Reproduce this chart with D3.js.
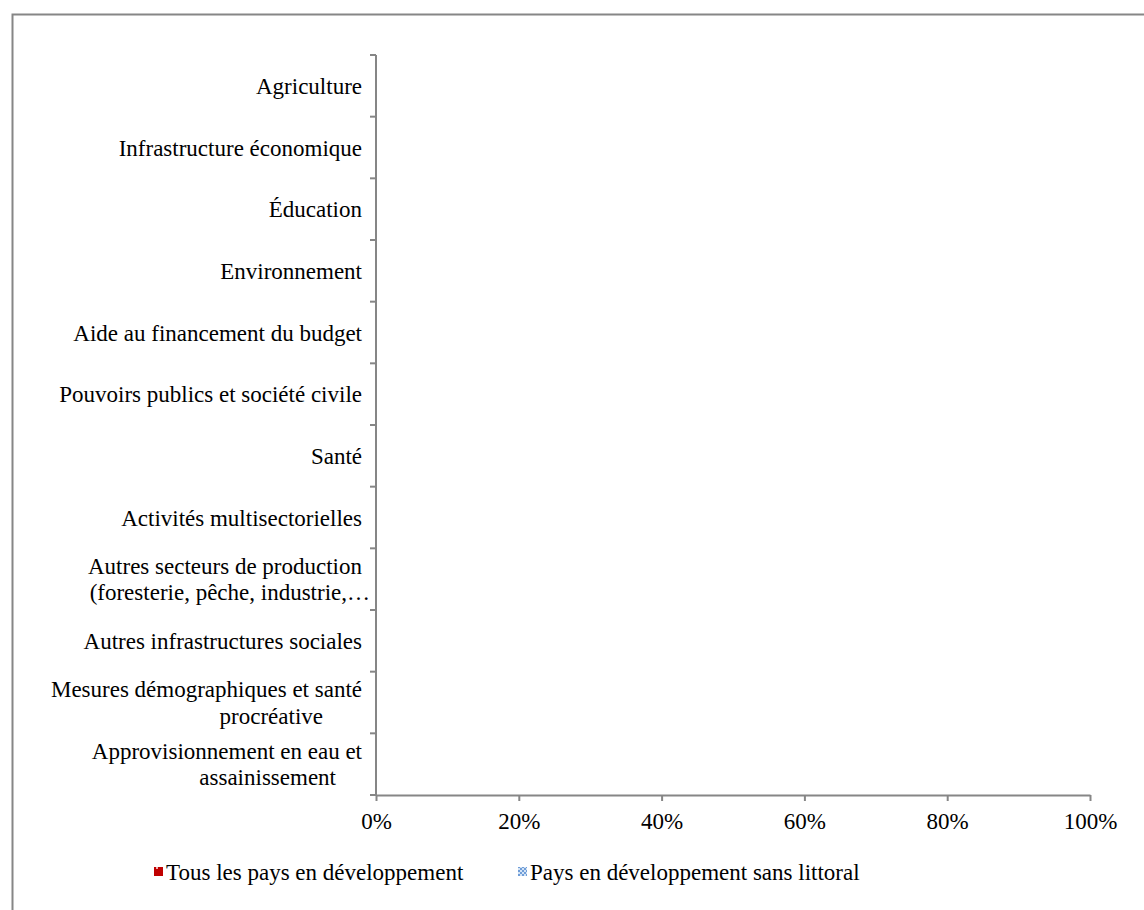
<!DOCTYPE html>
<html>
<head>
<meta charset="utf-8">
<script src="https://cdn.jsdelivr.net/npm/d3@7"></script>
<style>
  body { margin: 0; background: #fff; }
  svg text { font-family: "Liberation Serif", "Times New Roman", serif; fill: #000; }
</style>
</head>
<body>
<svg id="chart" width="1144" height="910"></svg>
<script>
// categories, top to bottom, each as its wrapped lines
var categories = [
    ["Agriculture"],
    ["Infrastructure économique"],
    ["Éducation"],
    ["Environnement"],
    ["Aide au financement du budget"],
    ["Pouvoirs publics et société civile"],
    ["Santé"],
    ["Activités multisectorielles"],
    ["Autres secteurs de production", "(foresterie, pêche, industrie,…"],
    ["Autres infrastructures sociales"],
    ["Mesures démographiques et santé", "procréative"],
    ["Approvisionnement en eau et", "assainissement"]
];
// shift of the second wrapped line (px, from right edge), as Excel lays it out
var secondLineShift = [0, 0, 0, 0, 0, 0, 0, 0, -8, 0, 39, 26];

var seriesNames = ["Tous les pays en développement", "Pays en développement sans littoral"];
// no bars are visible in the picture: every share reads as 0
var allDeveloping = [0, 0, 0, 0, 0, 0, 0, 0, 0, 0, 0, 0];
var landlocked = [0, 0, 0, 0, 0, 0, 0, 0, 0, 0, 0, 0];
var xTicks = [0, 0.2, 0.4, 0.6, 0.8, 1];

var svg = d3.select("#chart");
var axisColor = "#868686";
var fontSize = 23;

// outer chart frame (runs past the bottom and right of the picture)
svg.append("rect")
    .attr("x", 12.5).attr("y", 14.5)
    .attr("width", 1200).attr("height", 1000)
    .attr("fill", "none").attr("stroke", axisColor).attr("stroke-width", 2);

var defs = svg.append("defs");
var p1 = defs.append("pattern").attr("id", "patRed")
    .attr("width", 9).attr("height", 9).attr("patternUnits", "userSpaceOnUse");
p1.append("rect").attr("width", 9).attr("height", 9).attr("fill", "#C00000");
p1.append("rect").attr("x", 2).attr("y", 4).attr("width", 2).attr("height", 2).attr("fill", "#f2b0b0");
var p2 = defs.append("pattern").attr("id", "patBlue")
    .attr("width", 4).attr("height", 4).attr("patternUnits", "userSpaceOnUse");
p2.append("rect").attr("width", 4).attr("height", 4).attr("fill", "#6F9DD8");
p2.append("rect").attr("width", 2).attr("height", 2).attr("fill", "#d3e3f5");
p2.append("rect").attr("x", 2).attr("y", 2).attr("width", 2).attr("height", 2).attr("fill", "#d3e3f5");

var plotLeft = 376, plotRight = 1090, plotTop = 55, plotBottom = 795;

var x = d3.scaleLinear().domain([0, 1]).range([plotLeft, plotRight]);
var y = d3.scaleBand().domain(d3.range(categories.length)).range([plotTop, plotBottom]);
var ySub = d3.scaleBand().domain([0, 1]).range([0, y.bandwidth()]).paddingOuter(0.25);

// bars (all zero width)
var rows = svg.append("g").selectAll("g").data(categories).join("g")
    .attr("transform", function(d, i) { return "translate(0," + y(i) + ")"; });
rows.append("rect")
    .attr("x", x(0)).attr("y", ySub(1)).attr("height", ySub.bandwidth())
    .attr("width", function(d, i) { return x(landlocked[i]) - x(0); })
    .attr("fill", "url(#patBlue)");
rows.append("rect")
    .attr("x", x(0)).attr("y", ySub(0)).attr("height", ySub.bandwidth())
    .attr("width", function(d, i) { return x(allDeveloping[i]) - x(0); })
    .attr("fill", "url(#patRed)");

// x axis
var xAxis = svg.append("g")
    .attr("transform", "translate(0," + plotBottom + ")")
    .call(d3.axisBottom(x).tickValues(xTicks).tickFormat(d3.format(".0%")).tickSize(6).tickSizeOuter(0).tickPadding(12));
xAxis.select(".domain").attr("stroke", axisColor).attr("stroke-width", 2);
xAxis.selectAll(".tick line").attr("stroke", axisColor).attr("stroke-width", 2);
xAxis.selectAll("text").attr("font-size", fontSize).attr("font-family", "Liberation Serif");

// y axis: tick marks at band edges
var edges = d3.range(categories.length + 1).map(function(i) { return plotTop + i * y.step(); });
svg.append("line")
    .attr("x1", plotLeft).attr("x2", plotLeft).attr("y1", plotTop).attr("y2", plotBottom)
    .attr("stroke", axisColor).attr("stroke-width", 2);
svg.append("g").selectAll("line").data(edges).join("line")
    .attr("x1", plotLeft - 6).attr("x2", plotLeft).attr("y1", function(d) { return d; }).attr("y2", function(d) { return d; })
    .attr("stroke", axisColor).attr("stroke-width", 2);

// category labels
var labels = svg.append("g").selectAll("text").data(categories).join("text")
    .attr("font-size", fontSize)
    .attr("text-anchor", "end")
    .attr("y", function(d, i) { return y(i) + y.bandwidth() / 2; });
labels.each(function(d, i) {
    var t = d3.select(this);
    var n = d.length;
    d.forEach(function(line, j) {
        t.append("tspan")
            .attr("x", j === 0 ? 362 : 362 - secondLineShift[i])
            .attr("dy", j === 0 ? ((1 - n) * 0.57 + 0.35) + "em" : "1.14em")
            .text(line);
    });
});

// legend
var legendFill = ["url(#patRed)", "url(#patBlue)"];
var legendX = [154, 518];
var legend = svg.append("g").selectAll("g").data(seriesNames).join("g")
    .attr("transform", function(d, i) { return "translate(" + legendX[i] + ",872)"; });
legend.append("rect").attr("x", 0).attr("y", -5).attr("width", 9).attr("height", 9)
    .attr("fill", function(d, i) { return legendFill[i]; });
legend.append("text").attr("x", 12).attr("dy", "0.35em").attr("font-size", fontSize)
    .text(function(d) { return d; });
</script>
</body>
</html>
